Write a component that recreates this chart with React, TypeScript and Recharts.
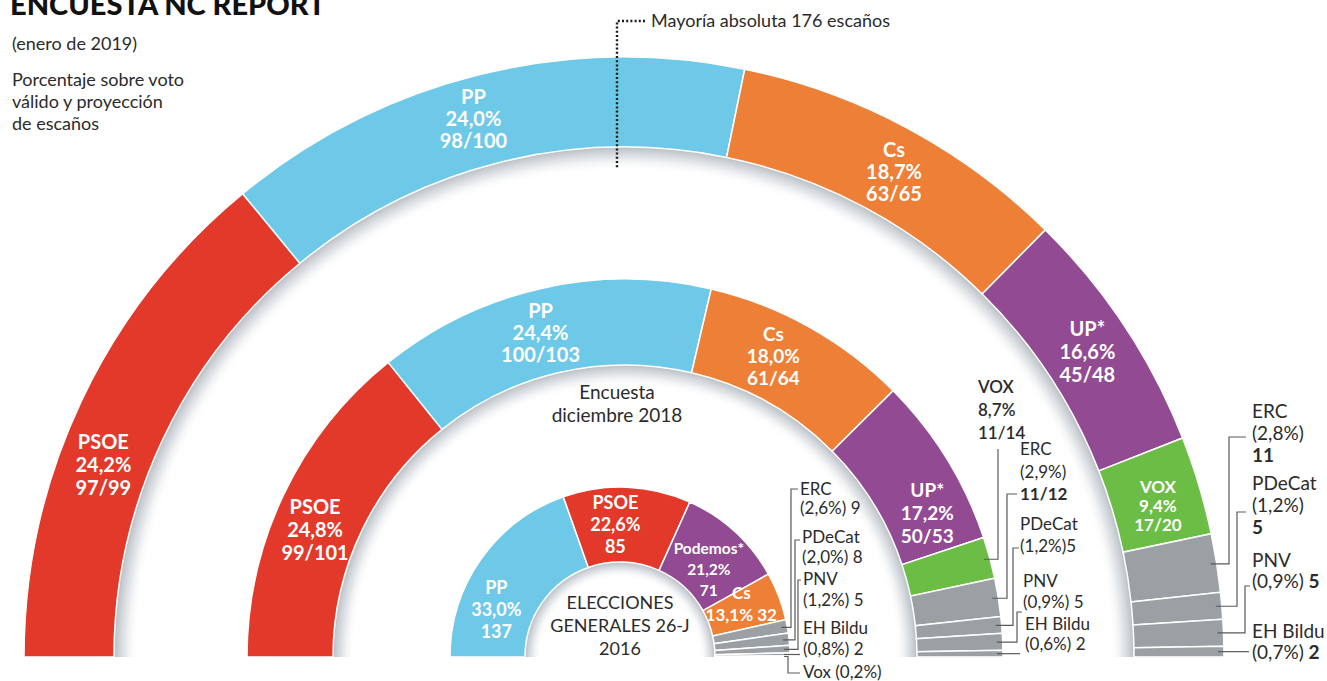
import React from 'react';
import { PieChart, Pie, Cell } from 'recharts';

const W = 1327;
const H = 681;
const FONT = "Lato, 'Open Sans', sans-serif";

// ---------------- data ----------------
const outerParties = ['PSOE', 'PP', 'Cs', 'UP*', 'VOX', 'ERC', 'PDeCat', 'PNV', 'EH Bildu'];
const outerPct = [24.2, 24.0, 18.7, 16.6, 9.4, 2.8, 1.2, 0.9, 0.7];
const outerSeatsMin = [97, 98, 63, 45, 17, 11, 5, 5, 2];
const outerSeatsMax = [99, 100, 65, 48, 20, 11, 5, 5, 2];

const middleParties = ['PSOE', 'PP', 'Cs', 'UP*', 'VOX', 'ERC', 'PDeCat', 'PNV', 'EH Bildu'];
const middlePct = [24.8, 24.4, 18.0, 17.2, 8.7, 2.9, 1.2, 0.9, 0.6];
const middleSeatsMin = [99, 100, 61, 50, 11, 11, 5, 5, 2];
const middleSeatsMax = [101, 103, 64, 53, 14, 12, 5, 5, 2];

const innerParties = ['PP', 'PSOE', 'Podemos*', 'Cs', 'ERC', 'PDeCat', 'PNV', 'EH Bildu', 'Vox'];
const innerPct = [33.0, 22.6, 21.2, 13.1, 2.6, 2.0, 1.2, 0.8, 0.2];
const innerSeats = [137, 85, 71, 32, 9, 8, 5, 2, 0];

const partyColors: Record<string, string> = {
  PSOE: '#E2392B',
  PP: '#6EC9E9',
  Cs: '#EE7F37',
  'UP*': '#924A92',
  'Podemos*': '#924A92',
  VOX: '#6BBD45',
  Vox: '#6BBD45',
  ERC: '#9BA0A4',
  PDeCat: '#9BA0A4',
  PNV: '#9BA0A4',
  'EH Bildu': '#9BA0A4',
};

// ---------------- helpers ----------------
const RAD = Math.PI / 180;
const fmtPct = (p: number) => p.toFixed(1).replace('.', ',') + '%';
const seatText = (a: number, b: number) => (a === b ? `${a}` : `${a}/${b}`);

type Row = { name: string; value: number; pct: number; seats: string };

const outerData: Row[] = outerParties.map((name, i) => ({
  name,
  value: (outerSeatsMin[i] + outerSeatsMax[i]) / 2,
  pct: outerPct[i],
  seats: seatText(outerSeatsMin[i], outerSeatsMax[i]),
}));
const middleData: Row[] = middleParties.map((name, i) => ({
  name,
  value: (middleSeatsMin[i] + middleSeatsMax[i]) / 2,
  pct: middlePct[i],
  seats: seatText(middleSeatsMin[i], middleSeatsMax[i]),
}));
// a 0-seat party is drawn as a hairline sliver, as in the original
const innerData: Row[] = innerParties.map((name, i) => ({
  name,
  value: Math.max(innerSeats[i], 0.7),
  pct: innerPct[i],
  seats: `${innerSeats[i]}`,
}));

// ---------------- layout ----------------
const RING_OUTER = { cx: 624, cy: 657, ri: 510, ro: 600, sh: 24 };
const RING_MIDDLE = { cx: 625, cy: 657, ri: 292, ro: 378, sh: 22 };
const RING_INNER = { cx: 620, cy: 657, ri: 95, ro: 170, sh: 16 };

type Inside = { shift: number; dr?: number; fs: number; lh: number; lines?: (d: Row) => string[] };
type Ext = {
  fmt: 'stack3' | 'stack2' | 'plain3' | 'tight' | 'single';
  tx: number; ty: number; lh: number; fs: number;
  vx: number; hy?: number; hx?: number;
  boldSeats?: boolean; weight?: number;
};

const outerInside: Record<string, Inside> = {
  PSOE: { shift: 5, fs: 20, lh: 23 },
  PP: { shift: 1.7, dr: 4, fs: 20, lh: 22 },
  Cs: { shift: -1, fs: 20, lh: 22 },
  'UP*': { shift: 0, fs: 20, lh: 23 },
  VOX: { shift: -0.8, fs: 17, lh: 19 },
};
const outerExt: Record<string, Ext> = {
  ERC: { fmt: 'stack3', tx: 1252, ty: 418, lh: 22, fs: 19, vx: 1229, hy: 437, hx: 1246, boldSeats: true },
  PDeCat: { fmt: 'stack3', tx: 1252, ty: 490, lh: 22, fs: 19, vx: 1237, hy: 512, hx: 1246, boldSeats: true },
  PNV: { fmt: 'stack2', tx: 1252, ty: 567, lh: 21, fs: 19, vx: 1245, hy: 586, hx: 1250, boldSeats: true },
  'EH Bildu': { fmt: 'stack2', tx: 1252, ty: 638, lh: 21, fs: 19, vx: 1249, boldSeats: true },
};

const middleInside: Record<string, Inside> = {
  PSOE: { shift: 3.3, fs: 20, lh: 23 },
  PP: { shift: 1.8, fs: 20, lh: 22 },
  Cs: { shift: 2.9, fs: 19, lh: 22 },
  'UP*': { shift: -6.1, fs: 19, lh: 23 },
};
const middleExt: Record<string, Ext> = {
  VOX: { fmt: 'plain3', tx: 978, ty: 393, lh: 23, fs: 17, vx: 998, hy: 449, weight: 600 },
  ERC: { fmt: 'stack3', tx: 1020, ty: 455, lh: 22.5, fs: 17, vx: 1007, hy: 494, hx: 1017, boldSeats: true },
  PDeCat: { fmt: 'tight', tx: 1020, ty: 530, lh: 22, fs: 17, vx: 1013, hy: 548, hx: 1019 },
  PNV: { fmt: 'stack2', tx: 1023, ty: 587, lh: 21, fs: 17, vx: 1017, hy: 612, hx: 1022 },
  'EH Bildu': { fmt: 'stack2', tx: 1025, ty: 630, lh: 20, fs: 17, vx: 1020 },
};

const innerInside: Record<string, Inside> = {
  PP: { shift: 14.2, fs: 18, lh: 22 },
  PSOE: { shift: 4.4, fs: 18, lh: 22 },
  'Podemos*': { shift: -3, dr: -8, fs: 15.5, lh: 21 },
  Cs: { shift: 2.8, fs: 17, lh: 22, lines: (d) => [d.name, `${fmtPct(d.pct)} ${d.seats}`] },
};
const innerExt: Record<string, Ext> = {
  ERC: { fmt: 'stack2', tx: 800, ty: 495, lh: 19, fs: 17, vx: 791, hy: 489, hx: 798 },
  PDeCat: { fmt: 'stack2', tx: 802, ty: 543, lh: 20, fs: 17, vx: 795, hy: 540, hx: 800 },
  PNV: { fmt: 'stack2', tx: 803, ty: 585, lh: 21, fs: 17, vx: 798, hy: 580, hx: 801 },
  'EH Bildu': { fmt: 'stack2', tx: 803, ty: 634, lh: 21, fs: 17, vx: 800 },
  Vox: { fmt: 'single', tx: 803, ty: 678, lh: 20, fs: 17, vx: 788, hy: 673, hx: 800 },
};

type Seg = { t: string; b?: boolean };

function extLines(d: Row, e: Ext): Seg[][] {
  const p = fmtPct(d.pct);
  switch (e.fmt) {
    case 'stack3':
      return [[{ t: d.name }], [{ t: `(${p})` }], [{ t: d.seats, b: e.boldSeats }]];
    case 'stack2':
      return [[{ t: d.name }], [{ t: `(${p}) ` }, { t: d.seats, b: e.boldSeats }]];
    case 'plain3':
      return [[{ t: d.name }], [{ t: p }], [{ t: d.seats }]];
    case 'tight':
      return [[{ t: d.name }], [{ t: `(${p})` }, { t: d.seats, b: e.boldSeats }]];
    default:
      return [[{ t: `${d.name} (${p})` }]];
  }
}

function makeLabel(data: Row[], inside: Record<string, Inside>, ext: Record<string, Ext>) {
  return (p: any) => {
    const { cx, cy, midAngle, innerRadius, outerRadius, index } = p;
    const d = data[index];
    if (!d) return null;
    const ins = inside[d.name];
    if (ins) {
      const ang = (midAngle + ins.shift) * RAD;
      const r = (innerRadius + outerRadius) / 2 + (ins.dr ?? 0);
      const x = cx + r * Math.cos(ang);
      const y = cy - r * Math.sin(ang);
      const lines = ins.lines ? ins.lines(d) : [d.name, fmtPct(d.pct), d.seats];
      const y0 = y - ((lines.length - 1) / 2) * ins.lh + ins.fs * 0.36;
      return (
        <text fill="#fff" fontSize={ins.fs} fontWeight={700} textAnchor="middle" fontFamily={FONT}>
          {lines.map((l, i) => (
            <tspan key={i} x={x} y={y0 + i * ins.lh}>
              {l}
            </tspan>
          ))}
        </text>
      );
    }
    const e = ext[d.name];
    if (!e) return null;
    const sr = outerRadius - 6;
    const sx = cx + sr * Math.cos(midAngle * RAD);
    const sy = cy - sr * Math.sin(midAngle * RAD);
    let path = `M${sx},${sy} H${e.vx}`;
    if (e.hy !== undefined) path += ` V${e.hy}`;
    if (e.hx !== undefined) path += ` H${e.hx}`;
    const lines = extLines(d, e);
    return (
      <g>
        <path d={path} fill="none" stroke="#5a5a5a" strokeWidth={1.2} />
        <text fontSize={e.fs} fill="#2b2b2b" fontFamily={FONT} fontWeight={e.weight ?? 400}>
          {lines.map((segs, i) => (
            <tspan key={i} x={e.tx} y={e.ty + i * e.lh}>
              {segs.map((s, j) => (
                <tspan key={j} fontWeight={s.b ? 700 : undefined}>
                  {s.t}
                </tspan>
              ))}
            </tspan>
          ))}
        </text>
      </g>
    );
  };
}

const shadowData = [{ name: 'shadow', value: 1 }];

export default function App() {
  const rings = [
    { ring: RING_OUTER, data: outerData, inside: outerInside, ext: outerExt, id: 'shOuter' },
    { ring: RING_MIDDLE, data: middleData, inside: middleInside, ext: middleExt, id: 'shMiddle' },
    { ring: RING_INNER, data: innerData, inside: innerInside, ext: innerExt, id: 'shInner' },
  ];
  return (
    <div style={{ position: 'absolute', left: 0, top: 0, width: W, height: H, background: '#fff' }}>
      <PieChart width={W} height={H} margin={{ top: 0, right: 0, bottom: 0, left: 0 }}>
        {rings.map((r) => (
          <Pie
            key={r.id + '-shadow'}
            data={shadowData}
            dataKey="value"
            cx={r.ring.cx}
            cy={r.ring.cy}
            innerRadius={r.ring.ri - r.ring.sh}
            outerRadius={r.ring.ri}
            startAngle={180}
            endAngle={0}
            stroke="none"
            isAnimationActive={false}
          >
            <Cell fill={`url(#${r.id})`} />
          </Pie>
        ))}
        {rings.map((r) => (
          <Pie
            key={r.id}
            data={r.data}
            dataKey="value"
            nameKey="name"
            cx={r.ring.cx}
            cy={r.ring.cy}
            innerRadius={r.ring.ri}
            outerRadius={r.ring.ro}
            startAngle={180}
            endAngle={0}
            stroke="#fff"
            strokeWidth={1.5}
            isAnimationActive={false}
            labelLine={false}
            label={makeLabel(r.data, r.inside, r.ext)}
          >
            {r.data.map((d: Row) => (
              <Cell key={d.name} fill={partyColors[d.name]} />
            ))}
          </Pie>
        ))}
      </PieChart>
      <svg
        width={W}
        height={H}
        style={{ position: 'absolute', left: 0, top: 0, pointerEvents: 'none' }}
        fontFamily={FONT}
      >
        <defs>
          {rings.map((r) => (
            <radialGradient
              key={r.id}
              id={r.id}
              gradientUnits="userSpaceOnUse"
              cx={r.ring.cx}
              cy={r.ring.cy}
              r={r.ring.ri}
            >
              <stop offset={(r.ring.ri - r.ring.sh) / r.ring.ri} stopColor="#ffffff" stopOpacity={0} />
              <stop offset={(r.ring.ri - r.ring.sh * 0.45) / r.ring.ri} stopColor="#dadee2" stopOpacity={0.75} />
              <stop offset={1} stopColor="#b8bec4" stopOpacity={1} />
            </radialGradient>
          ))}
        </defs>
        <text x={10} y={15} fontSize={29} fontWeight={900} fill="#111">
          ENCUESTA NC REPORT
        </text>
        <text x={12} y={50} fontSize={18} fill="#2b2b2b">
          (enero de 2019)
        </text>
        <text fontSize={18} fill="#2b2b2b">
          <tspan x={12} y={86}>Porcentaje sobre voto</tspan>
          <tspan x={12} y={108}>válido y proyección</tspan>
          <tspan x={12} y={130}>de escaños</tspan>
        </text>
        <text x={651} y={27} fontSize={18} fill="#2b2b2b">
          Mayoría absoluta 176 escaños
        </text>
        <path d="M645,21 H617 V168" fill="none" stroke="#1a1a1a" strokeWidth={2.4} strokeDasharray="2 2.2" />
        <text fontSize={19} fill="#2b2b2b" textAnchor="middle">
          <tspan x={617} y={399}>Encuesta</tspan>
          <tspan x={617} y={422}>diciembre 2018</tspan>
        </text>
        <text fontSize={18} fill="#2b2b2b" textAnchor="middle">
          <tspan x={620} y={609}>ELECCIONES</tspan>
          <tspan x={620} y={632}>GENERALES 26-J</tspan>
          <tspan x={620} y={655}>2016</tspan>
        </text>
      </svg>
    </div>
  );
}
